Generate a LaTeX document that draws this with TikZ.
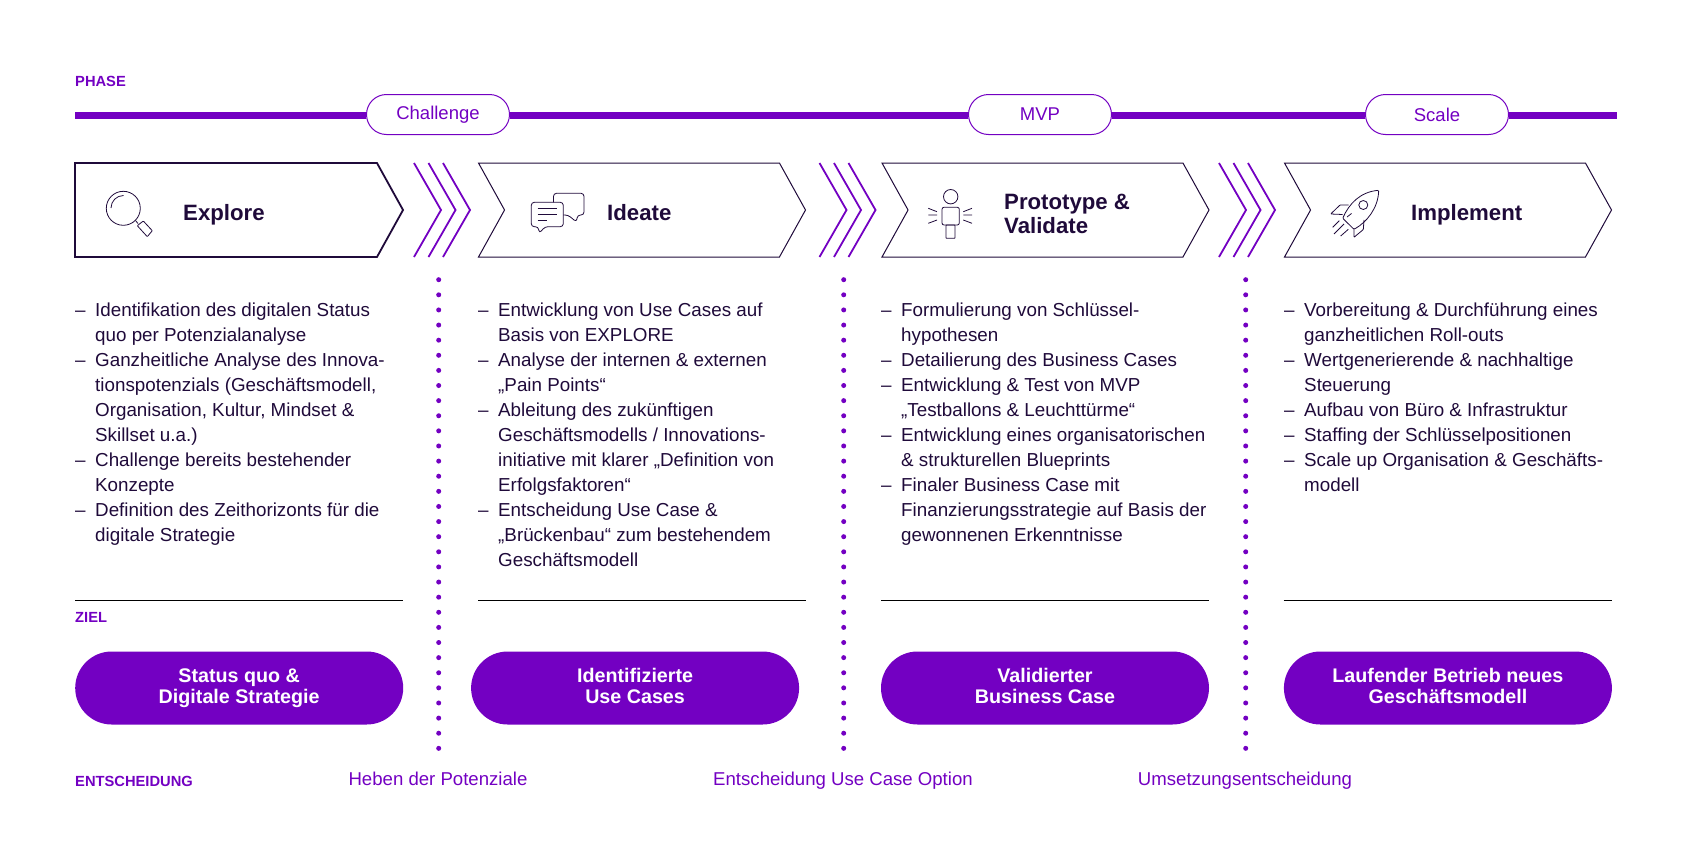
\documentclass[tikz,border=0pt]{standalone}
\usepackage{fontspec}
\setmainfont{Liberation Sans}
\usepackage{tikz}
\usetikzlibrary{shapes.misc, shapes.symbols, positioning, calc}
\definecolor{violett}{HTML}{7300C2}
\definecolor{dunkel}{HTML}{1F0A3A}
\newcommand{\bodyfont}{\fontsize{18.8}{25}\selectfont}
% Drei Winkel zwischen den Phasen
\newcommand{\winkel}[1]{
	\foreach \dx in {0,14.5,29} {
		\draw[winkelline] (#1+\dx,163) -- (#1+27+\dx,210) -- (#1+\dx,257);
	}
}
\begin{document}
\begin{tikzpicture}[
		x=1pt, y=-1pt,
		chevron/.style={draw=dunkel, line width=1pt, signal, signal to=east, signal from=west, signal pointer angle=122, minimum height=94pt, inner sep=0pt},
		winkelline/.style={draw=violett, line width=1.8pt},
		icon/.style={draw=dunkel, line width=0.8pt, line join=round, rounded corners=0.6pt},
		title/.style={anchor=base west, text=dunkel, font=\fontsize{22.2}{24.5}\selectfont\bfseries, align=left, inner sep=0pt},
		head/.style={anchor=west, text=violett, font=\fontsize{14.7}{16}\selectfont\bfseries, inner sep=0pt},
		phasepill/.style={draw=violett, line width=1pt, fill=white, rounded rectangle, minimum width=143pt, minimum height=40pt, text=violett, font=\fontsize{18.5}{20}\selectfont, inner sep=0pt},
		phaseline/.style={draw=violett, line width=7pt},
		bullets/.style={anchor=north west, inner sep=0pt, text=dunkel, font=\bodyfont},
		ziel/.style={fill=violett, rounded rectangle, minimum width=328pt, minimum height=73pt, text=white, align=center, font=\fontsize{19.7}{21}\selectfont\bfseries, inner sep=0pt, execute at begin node={\rule{0pt}{17pt}}, execute at end node={\vphantom{g}}},
		dotline/.style={draw=violett, line width=5pt, line cap=round, dash pattern=on 0pt off 15.117pt},
		rulerline/.style={draw=black, line width=1pt},
		decision/.style={anchor=base, text=violett, font=\fontsize{18.6}{20}\selectfont, inner sep=0pt}
	]
	\useasboundingbox (0,0) rectangle (1687,865);
	
	% --- Phase ---
	\node[head] (phase) at (75,81.5) {PHASE};
	\coordinate (phase_start) at (75,115.5);
	\coordinate (pill_start) at (75,114.5);
	\node[phasepill, right=291pt of pill_start] (challenge) {Challenge};
	\node[phasepill, right=458pt of challenge] (mvp) {MVP};
	\node[phasepill, right=253pt of mvp] (scale) {Scale};
	\coordinate[right=108pt of scale] (phase_end);
	\draw[phaseline] (phase_start) -- (challenge.west |- phase_start);
	\draw[phaseline] (challenge.east |- phase_start) -- (mvp.west |- phase_start);
	\draw[phaseline] (mvp.east |- phase_start) -- (scale.west |- phase_start);
	\draw[phaseline] (scale.east |- phase_start) -- (phase_end |- phase_start);
	
	% --- Schritte ---
	\node[chevron, signal from=nowhere, line width=1.8pt, minimum width=328pt] (explore) at (226,210) {};
	\node[chevron, minimum width=327pt] (ideate) at (642,210) {};
	\node[chevron, minimum width=327pt] (prototype) at (1045.5,210) {};
	\node[chevron, minimum width=327pt] (implement) at (1448,210) {};
	\node[title] (explore_text) at (183,220) {Explore};
	\node[title] (ideate_text) at (607,220) {Ideate};
	\node[title] (prototype_text) at (1004,233.5) {Prototype \&\\Validate};
	\node[title] (implement_text) at (1411,220) {Implement};
	\winkel{414}
	\winkel{819.5}
	\winkel{1219}
	
	% --- Icons ---
	% Lupe
	\draw[icon] (123.3,208.3) circle (17);
	\draw[icon] (111,208) arc (180:270:12.5);
	\draw[icon] (135.5,220.5) -- (138,223.5);
	\draw[icon] (137.3,225.7) -- (143.3,221) -- (152.3,230.7) -- (147.3,236.7) -- cycle;
	% Sprechblasen
	\draw[icon, rounded corners=3pt] (553.5,202.3) -- (553.5,193.3) -- (584,193.3) -- (584,215) -- (577.5,215) -- (576.5,222) -- (568,215) -- (563.3,215);
	\draw[icon, rounded corners=3pt] (531.3,202.3) -- (563.3,202.3) -- (563.3,226.7) -- (545,226.7) -- (539.3,233.3) -- (538.3,226.7) -- (531.3,226.7) -- cycle;
	\draw[icon] (537.5,208.5) -- (557,208.5) (537.5,214) -- (557,214) (537.5,220) -- (547,220);
	% Person
	\draw[icon] (950.7,196.7) circle (7.2);
	\draw[icon, rounded corners=2pt] (942,207.3) rectangle (959.3,225);
	\draw[icon] (946,225) rectangle (955,238.3);
	\draw[icon] (928.3,208.3) -- (937,211.7) (928.3,215) -- (937,215) (928.3,223.3) -- (937,220);
	\draw[icon] (963.3,211.7) -- (972,208.3) (963.3,215) -- (972,215) (963.3,220) -- (972,223.3);
	% Rakete
	\draw[icon, rounded corners=1pt] (1342.7,218.3) .. controls (1349,204) and (1360,192) .. (1378.7,190.3) .. controls (1378,208) and (1367,222) .. (1354,229.3) -- cycle;
	\draw[icon] (1348.5,205) -- (1340,205) -- (1330.7,214) -- (1342.7,214.5);
	\draw[icon] (1364,220) -- (1363.3,229.5) -- (1354,237.3) -- (1354,228);
	\draw[icon] (1363.3,205) circle (4.5);
	\draw[icon] (1347,217) -- (1351.5,213.5);
	\draw[icon] (1332.7,227.3) -- (1339.3,220.7) (1334,234) -- (1344,224) (1340.7,236) -- (1348.3,229.3);
	
	% --- Listen ---
	\node[bullets] (list_explore) at (75,298.5) {\begin{tabular}{@{}p{20pt}@{}l@{}}
		–&Identifikation des digitalen Status\\
		&quo per Potenzialanalyse\\
		–&Ganzheitliche Analyse des Innova-\\
		&tionspotenzials (Geschäftsmodell,\\
		&Organisation, Kultur, Mindset \&\\
		&Skillset u.a.)\\
		–&Challenge bereits bestehender\\
		&Konzepte\\
		–&Definition des Zeithorizonts für die\\
		&digitale Strategie
	\end{tabular}};
	\node[bullets] (list_ideate) at (478,298.5) {\begin{tabular}{@{}p{20pt}@{}l@{}}
		–&Entwicklung von Use Cases auf\\
		&Basis von EXPLORE\\
		–&Analyse der internen \& externen\\
		&„Pain Points“\\
		–&Ableitung des zukünftigen\\
		&Geschäftsmodells / Innovations-\\
		&initiative mit klarer „Definition von\\
		&Erfolgsfaktoren“\\
		–&Entscheidung Use Case \&\\
		&„Brückenbau“ zum bestehendem\\
		&Geschäftsmodell
	\end{tabular}};
	\node[bullets] (list_prototype) at (881,298.5) {\begin{tabular}{@{}p{20pt}@{}l@{}}
		–&Formulierung von Schlüssel-\\
		&hypothesen\\
		–&Detailierung des Business Cases\\
		–&Entwicklung \& Test von MVP\\
		&„Testballons \& Leuchttürme“\\
		–&Entwicklung eines organisatorischen\\
		&\& strukturellen Blueprints\\
		–&Finaler Business Case mit\\
		&Finanzierungsstrategie auf Basis der\\
		&gewonnenen Erkenntnisse
	\end{tabular}};
	\node[bullets] (list_implement) at (1284,298.5) {\begin{tabular}{@{}p{20pt}@{}l@{}}
		–&Vorbereitung \& Durchführung eines\\
		&ganzheitlichen Roll-outs\\
		–&Wertgenerierende \& nachhaltige\\
		&Steuerung\\
		–&Aufbau von Büro \& Infrastruktur\\
		–&Staffing der Schlüsselpositionen\\
		–&Scale up Organisation \& Geschäfts-\\
		&modell
	\end{tabular}};
	
	% --- Ziel ---
	\node[head] (ziel_head) at (75,617.5) {ZIEL};
	\node[ziel, anchor=west] (ziel_explore) at (75,688) {Status quo \&\\Digitale Strategie};
	\node[ziel, right=67.5pt of ziel_explore] (ziel_ideate) {Identifizierte\\Use Cases};
	\node[ziel, right=81.5pt of ziel_ideate] (ziel_prototype) {Validierter\\Business Case};
	\node[ziel, right=74.5pt of ziel_prototype] (ziel_implement) {Laufender Betrieb neues\\Geschäftsmodell};
	\draw[rulerline] (75,600) -- (403,600);
	\draw[rulerline] (478,600) -- (806,600);
	\draw[rulerline] (881,600) -- (1209,600);
	\draw[rulerline] (1283.5,600) -- (1612,600);
	
	% --- Punktlinien und Entscheidung ---
	\coordinate (dots_a) at (438.7,279.7);
	\coordinate (dots_b) at (843.7,279.7);
	\coordinate (dots_c) at (1245.7,279.7);
	\draw[dotline] (dots_a) -- ++(0,469);
	\draw[dotline] (dots_b) -- ++(0,469);
	\draw[dotline] (dots_c) -- ++(0,469);
	\node[head] (entscheidung) at (75,781) {ENTSCHEIDUNG};
	\node[decision] (heben) at (438,785) {Heben der Potenziale};
	\node[decision] (option) at (843,785) {Entscheidung Use Case Option};
	\node[decision] (umsetzung) at (1245,785) {Umsetzungsentscheidung};
\end{tikzpicture}
\end{document}
